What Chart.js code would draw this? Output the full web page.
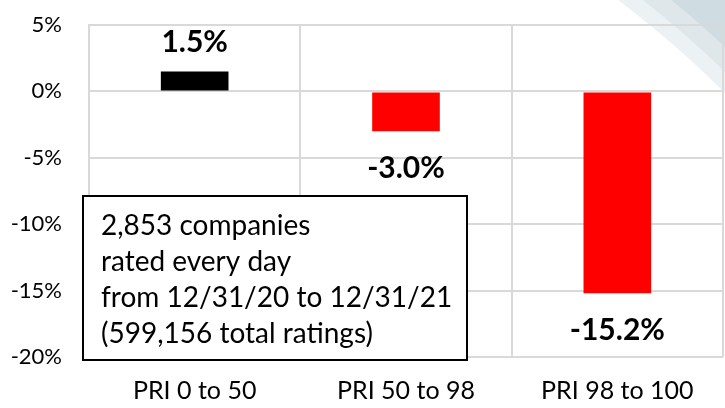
<!DOCTYPE html>
<html>
<head>
<meta charset="utf-8">
<script src="https://cdn.jsdelivr.net/npm/chart.js@4/dist/chart.umd.min.js"></script>
<style>
  html, body { margin: 0; padding: 0; background: #fff; }
  #wrap { width: 725px; height: 408px; }
</style>
</head>
<body>
<div id="wrap"><canvas id="priChart" width="725" height="408"></canvas></div>
<script>
// chart data
const categories = ['PRI 0 to 50', 'PRI 50 to 98', 'PRI 98 to 100'];
const returns = [1.5, -3.0, -15.2];
const yTicks = [5, 0, -5, -10, -15, -20];
const noteLines = [
    '2,853 companies',
    'rated every day',
    'from 12/31/20 to 12/31/21',
    '(599,156 total ratings)'
];

const FONT = 'Lato, "Open Sans", sans-serif';

// light swoosh in the top right corner
const swooshPlugin = {
    id: 'swoosh',
    beforeDraw(chart) {
        const ctx = chart.ctx;
        const bands = [[1002, '#ecf1f3'], [1017, '#dfe7eb'], [1035, '#cfdde3']];
        ctx.save();
        bands.forEach(([r, color]) => {
            ctx.fillStyle = color;
            ctx.beginPath();
            ctx.rect(0, 0, chart.width, chart.height);
            ctx.arc(16, 801, r, 0, Math.PI * 2, true);
            ctx.fill('evenodd');
        });
        ctx.restore();
    }
};

// bold value labels next to each bar
const valueLabels = {
    id: 'valueLabels',
    afterDatasetsDraw(chart) {
        const ctx = chart.ctx;
        const meta = chart.getDatasetMeta(0);
        ctx.save();
        ctx.font = 'bold 30px ' + FONT;
        ctx.fillStyle = '#000';
        ctx.textAlign = 'center';
        ctx.textBaseline = 'middle';
        meta.data.forEach((bar, i) => {
            const v = returns[i];
            const y = v >= 0 ? bar.y - 29 : bar.y + 37;
            ctx.fillText(v.toFixed(1) + '%', bar.x, y);
        });
        ctx.restore();
    }
};

// text box in the lower left
const noteBox = {
    id: 'noteBox',
    afterDraw(chart) {
        const ctx = chart.ctx;
        const area = chart.chartArea;
        const x = area.left - 6, y = 196, w = 384, h = 164;
        ctx.save();
        ctx.fillStyle = '#fff';
        ctx.fillRect(x, y, w, h);
        ctx.strokeStyle = '#000';
        ctx.lineWidth = 2;
        ctx.strokeRect(x, y, w, h);
        ctx.font = '28px ' + FONT;
        ctx.fillStyle = '#000';
        ctx.textBaseline = 'alphabetic';
        noteLines.forEach((line, i) => {
            ctx.fillText(line, x + 18, y + 39 + i * 36);
        });
        ctx.restore();
    }
};

new Chart(document.getElementById('priChart'), {
    type: 'bar',
    data: {
        labels: categories,
        datasets: [{
            data: returns,
            backgroundColor: returns.map(v => v >= 0 ? '#000000' : '#ff0000'),
            borderWidth: 0,
            categoryPercentage: 1,
            barPercentage: 0.32
        }]
    },
    options: {
        responsive: false,
        animation: false,
        layout: { padding: { top: 25, right: 2, left: 0, bottom: 0 } },
        plugins: {
            legend: { display: false },
            tooltip: { enabled: false }
        },
        scales: {
            x: {
                grid: { color: '#d9d9d9', lineWidth: 2, drawTicks: false },
                border: { display: false },
                ticks: { color: '#000', font: { family: FONT, size: 25 }, padding: 19 },
                afterFit(s) {
                    s.height = 51;
                    s.paddingLeft = 0;
                    s.paddingRight = 0;
                }
            },
            y: {
                min: -20,
                max: 5,
                afterBuildTicks(s) { s.ticks = yTicks.map(v => ({ value: v })); },
                grid: { color: '#d9d9d9', lineWidth: 2, drawTicks: false },
                border: { color: '#d9d9d9', width: 2 },
                ticks: {
                    color: '#000',
                    font: { family: FONT, size: 22 },
                    padding: 27,
                    callback: v => v + '%'
                },
                afterFit(s) {
                    s.width = 89;
                    s.paddingTop = 0;
                    s.paddingBottom = 0;
                }
            }
        }
    },
    plugins: [swooshPlugin, valueLabels, noteBox]
});
</script>
</body>
</html>
